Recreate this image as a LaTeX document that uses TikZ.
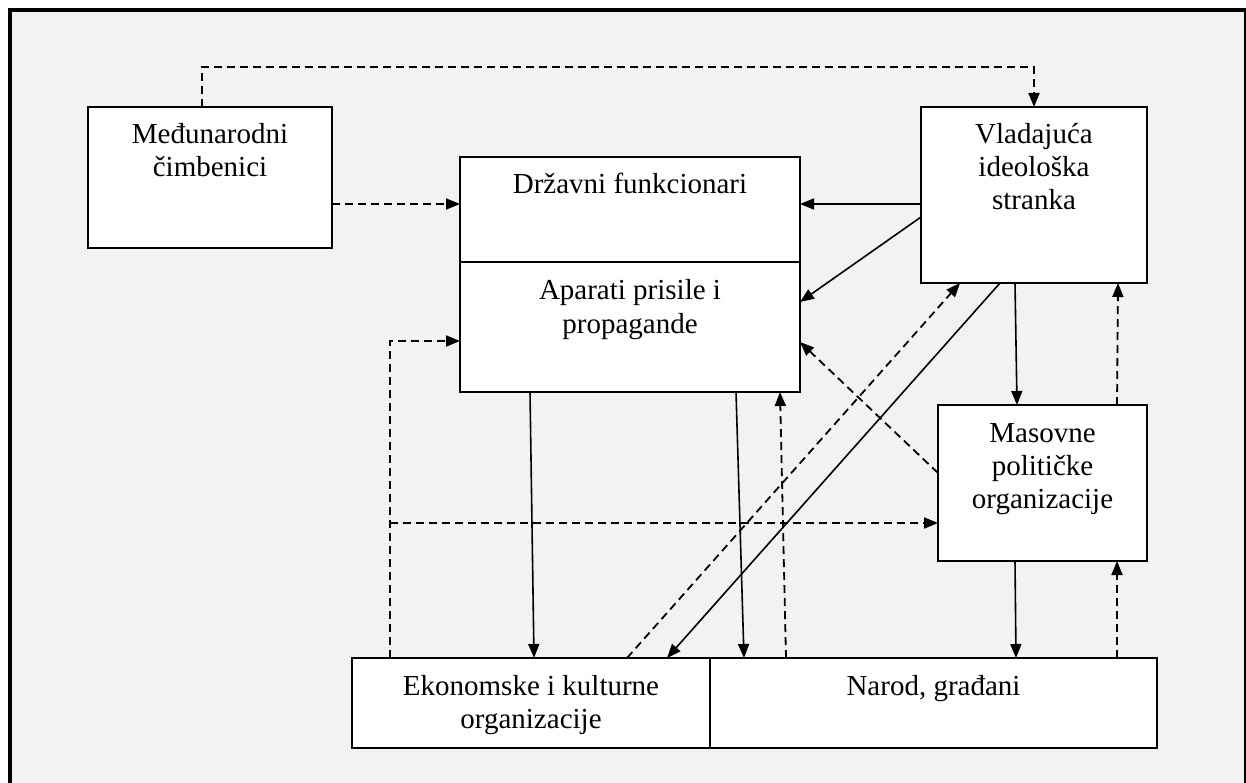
\documentclass[tikz,border=0pt]{standalone}
\usepackage{fontspec}
\setmainfont{Liberation Serif}
\usetikzlibrary{arrows.meta}
\definecolor{panel}{HTML}{F2F2F2}
\begin{document}
\begin{tikzpicture}[x=1pt,y=-1pt,
  >={Triangle[length=14pt,width=11pt]},
  box/.style={draw,line width=2pt,fill=white,inner sep=0pt,outer sep=0pt},
  lbl/.style={anchor=base,align=center,inner sep=0pt,font=\fontsize{29}{33}\selectfont},
  sline/.style={->,line width=1.6pt},
  dline/.style={->,line width=1.8pt,dash pattern=on 8pt off 5pt}]
\useasboundingbox (0,0) rectangle (1246,783);
\fill[panel] (10,10) rectangle (1246,783);
\draw[line width=4pt] (10,783) -- (10,10) -- (1246,10);
\draw[line width=2pt] (1245,10) -- (1245,783);
\node[box,minimum width=244pt,minimum height=141pt] (medj) at (210,177.5) {};
\node[box,minimum width=340pt,minimum height=105pt] (drz) at (630,209.5) {};
\node[box,minimum width=340pt,minimum height=130pt] (apar) at (630,327) {};
\node[box,minimum width=226pt,minimum height=176pt] (vlad) at (1034,195) {};
\node[box,minimum width=209pt,minimum height=156pt] (mas) at (1042.5,483) {};
\node[box,minimum width=358pt,minimum height=90pt] (ekon) at (531,703) {};
\node[box,minimum width=447pt,minimum height=90pt] (narod) at (933.5,703) {};
\node[lbl] (medj-t) at ([yshift=-70pt]medj.north) {Međunarodni\\čimbenici};
\node[lbl] (drz-t) at ([yshift=-37pt]drz.north) {Državni funkcionari};
\node[lbl] (apar-t) at ([yshift=-71pt]apar.north) {Aparati prisile i\\propagande};
\node[lbl] (vlad-t) at ([yshift=-103pt]vlad.north) {Vladajuća\\ideološka\\stranka};
\node[lbl] (mas-t) at ([yshift=-103pt]mas.north) {Masovne\\političke\\organizacije};
\node[lbl] (ekon-t) at ([yshift=-70pt]ekon.north) {Ekonomske i kulturne\\organizacije};
\node[lbl] (narod-t) at ([yshift=-37pt]narod.north) {Narod, građani};
\coordinate (fork) at ([xshift=-141pt,yshift=135pt]ekon.north);
\draw[dline] ([xshift=-8pt]medj.north) |- ([yshift=40pt]vlad.north) -- (vlad.north);
\draw[dline] ([yshift=-26.5pt]medj.east) -- ([yshift=5.5pt]drz.west);
\draw[dline] ([xshift=-141pt]ekon.north) |- ([yshift=-14pt]apar.west);
\draw[dline] (fork) -- (fork -| mas.west);
\draw[sline] ([yshift=-9pt]vlad.west) -- ([yshift=5.5pt]drz.east);
\draw[sline] ([yshift=-22pt]vlad.west) -- ([yshift=25pt]apar.east);
\draw[dline] ([yshift=10pt]mas.west) -- ([yshift=-15pt]apar.east);
\draw[dline] ([xshift=96pt]ekon.north) -- ([xshift=-74pt]vlad.south);
\draw[sline] ([xshift=-34pt]vlad.south) -- ([xshift=136pt]ekon.north);
\draw[sline] ([xshift=-19pt]vlad.south) -- ([xshift=-25.5pt]mas.north);
\draw[dline] ([xshift=74.5pt]mas.north) -- ([xshift=84pt]vlad.south);
\draw[sline] ([xshift=106pt]apar.south) -- ([xshift=-189.5pt]narod.north);
\draw[sline] ([xshift=-100pt]apar.south) -- ([xshift=3pt]ekon.north);
\draw[dline] ([xshift=-147.5pt]narod.north) -- ([xshift=150pt]apar.south);
\draw[sline] ([xshift=-27.5pt]mas.south) -- ([xshift=82.5pt]narod.north);
\draw[dline] ([xshift=183.5pt]narod.north) -- ([xshift=74.5pt]mas.south);
\end{tikzpicture}
\end{document}
